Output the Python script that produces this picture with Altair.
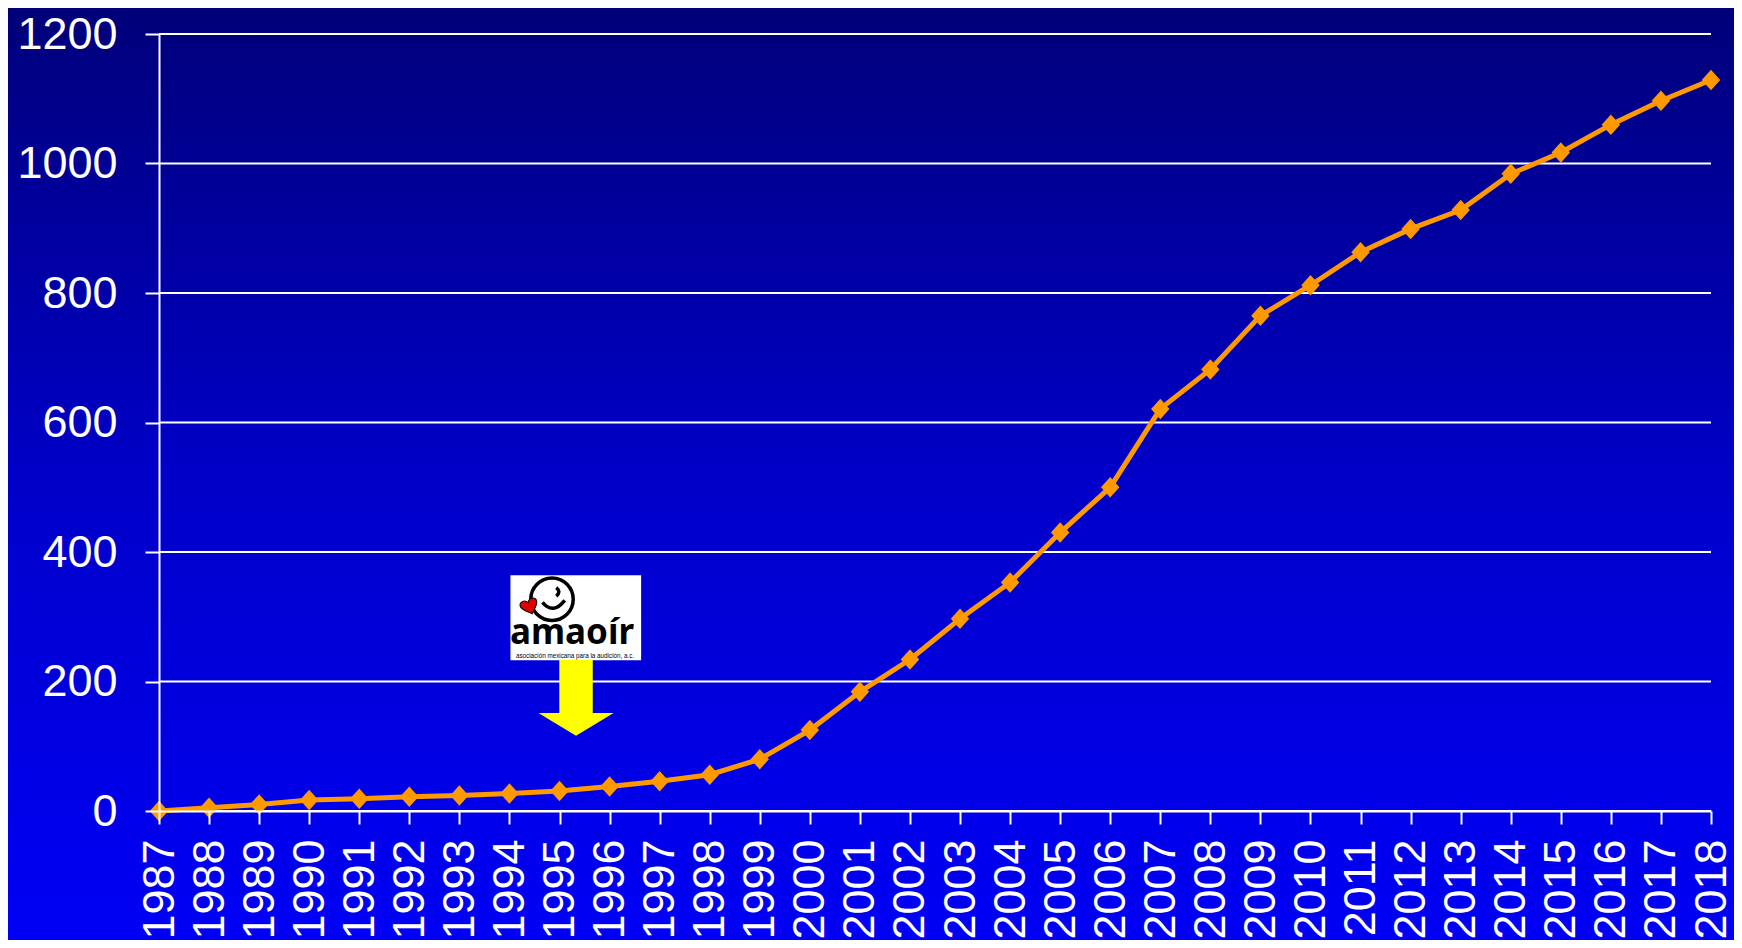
import altair as alt
import pandas as pd

# ---- data ----
years = list(range(1987, 2019))
values = [0, 5, 10, 17, 19, 22, 24, 27, 31, 38, 46, 56, 80, 125, 184, 234,
          297, 353, 430, 500, 621, 682, 765, 812, 863, 899, 928, 984, 1017,
          1060, 1097, 1129]
y_ticks = [0, 200, 400, 600, 800, 1000, 1200]

logo_name = "amaoír"
logo_sub = "asociación mexicana para la audición, a.c."

# ---- layout ----
W, H = 1552, 777
PAD = {"left": 151, "top": 26, "right": 23, "bottom": 129}
FONT = "Liberation Sans"
ORANGE = "#FF9900"

xs = alt.Scale(domain=[1987, 2018], nice=False, zero=False)
ys = alt.Scale(domain=[0, 1200], nice=False, zero=True)

x_axis = alt.Axis(title="", values=years, format="d", labelAngle=270,
                  labelAlign="right", labelBaseline="middle",
                  labelFontSize=45, labelFont=FONT, labelColor="white",
                  labelPadding=15, labelFlush=False, labelOverlap=False,
                  tickColor="white", tickSize=13, tickWidth=2,
                  domainColor="white", domainWidth=2, grid=False, zindex=1)
y_axis = alt.Axis(title="", values=y_ticks, format="d",
                  labelFontSize=45, labelFont=FONT, labelColor="white",
                  labelPadding=28, labelFlush=False, labelOverlap=False,
                  tickColor="white", tickSize=14, tickWidth=2,
                  domainColor="white", domainWidth=2, grid=False, zindex=1)


def X(f="year"):
    return alt.X(f"{f}:Q", scale=xs, axis=x_axis)


def Y(f="value"):
    return alt.Y(f"{f}:Q", scale=ys, axis=y_axis)


df = pd.DataFrame({"year": years, "value": values})

# background gradient covering the whole picture
bg = alt.Chart(pd.DataFrame({"k": [0]})).mark_rect(
    fill=alt.Gradient(gradient="linear",
                      stops=[alt.GradientStop(color="#00007A", offset=0),
                             alt.GradientStop(color="#0000C8", offset=0.5),
                             alt.GradientStop(color="#0000F6", offset=1)],
                      x1=0, x2=0, y1=0, y2=1)
).encode(x=alt.value(-PAD["left"]), x2=alt.value(W + PAD["right"]),
         y=alt.value(-PAD["top"]), y2=alt.value(H + PAD["bottom"]))

grid = alt.Chart(pd.DataFrame({"value": y_ticks})).mark_rule(
    color="white", strokeWidth=2).encode(y=Y())

line = alt.Chart(df).mark_line(color=ORANGE, strokeWidth=5).encode(x=X(), y=Y())
pts = alt.Chart(df).mark_point(
    shape="M0,-1L0.9,0L0,1L-0.9,0Z", filled=True, fill=ORANGE, opacity=1,
    size=420, strokeWidth=0).encode(x=X(), y=Y())

# ---- logo annotation (in data coordinates) ----
box = alt.Chart(pd.DataFrame({"year": [1994.02], "year2": [1996.63],
                              "value": [233], "value2": [364]})).mark_rect(
    fill="white").encode(x=X(), x2="year2:Q", y=Y(), y2="value2:Q")

face = alt.Chart(pd.DataFrame({"year": [1994.85], "value": [327]})).mark_point(
    shape="circle", filled=False, stroke="black", strokeWidth=3.5,
    size=1800, opacity=1).encode(x=X(), y=Y())
smile = alt.Chart(pd.DataFrame({"year": [1994.85], "value": [327]})).mark_point(
    shape="M-0.45,0.15Q0.05,0.75 0.6,0.05M0.2,-0.55Q0.45,-0.35 0.2,-0.15",
    filled=False, stroke="black", strokeWidth=3.5, size=1800,
    opacity=1).encode(x=X(), y=Y())
heart = alt.Chart(pd.DataFrame({"year": [1994.4], "value": [316]})).mark_point(
    shape="M0,0.9C-0.4,0.5 -1,0.1 -1,-0.35C-1,-0.85 -0.25,-1 0,-0.45"
          "C0.25,-1 1,-0.85 1,-0.35C1,0.1 0.4,0.5 0,0.9Z",
    filled=True, fill="#E00000", stroke="black", strokeWidth=1,
    size=300, angle=340, opacity=1).encode(x=X(), y=Y())
name = alt.Chart(pd.DataFrame({"year": [1995.25], "value": [258],
                               "t": [logo_name]})).mark_text(
    font="Noto Sans", fontSize=35, fontWeight="bold", color="black",
    align="center", baseline="alphabetic").encode(x=X(), y=Y(), text="t:N")
sub = alt.Chart(pd.DataFrame({"year": [1995.31], "value": [240],
                              "t": [logo_sub]})).mark_text(
    font=FONT, fontSize=6.3, color="black", align="center",
    baseline="middle").encode(x=X(), y=Y(), text="t:N")
arrow = alt.Chart(pd.DataFrame({"year": [1995.33], "value": [175]})).mark_point(
    shape="M-0.44,-1L0.44,-1L0.44,0.4L0.99,0.4L0,1L-0.99,0.4L-0.44,0.4Z",
    filled=True, fill="#FFFF00", strokeWidth=0, size=5776,
    opacity=1).encode(x=X(), y=Y())

chart = alt.layer(bg, grid, line, pts, box, face, smile, heart, name, sub,
                  arrow).properties(
    width=W, height=H, padding=PAD,
    autosize=alt.AutoSizeParams(type="none"),
    background="#0000F0",
).configure_view(strokeWidth=0)

chart.save("out.html", embed_options={"renderer": "svg", "actions": False})
